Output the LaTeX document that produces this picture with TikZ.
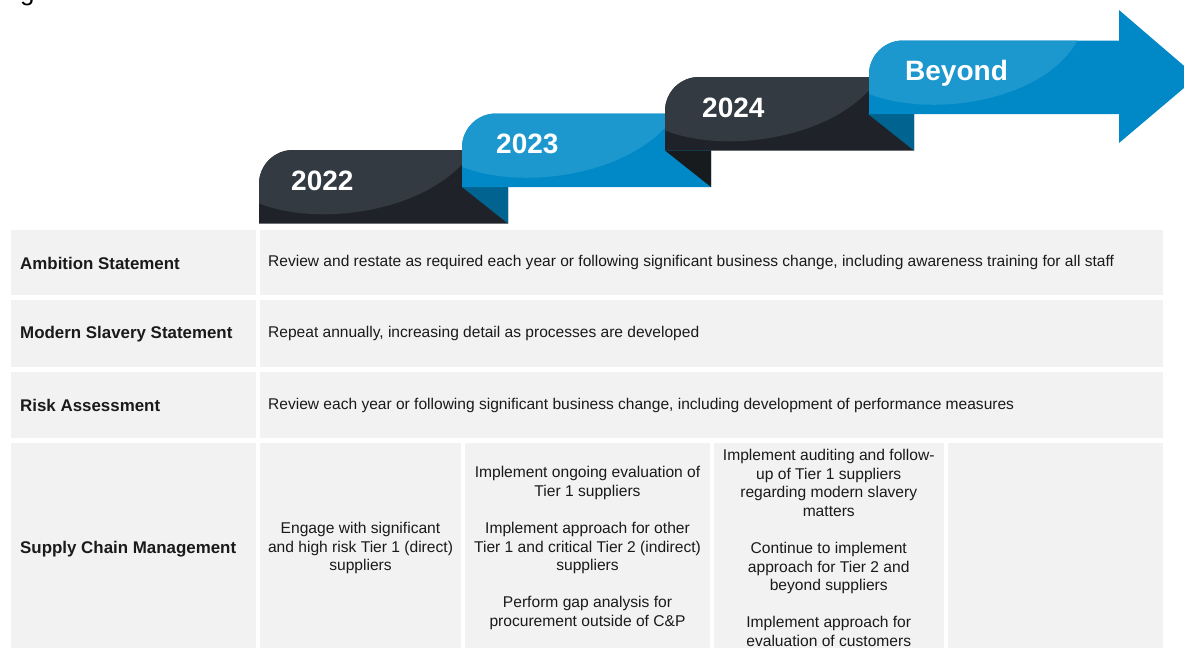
\documentclass[tikz,border=0pt]{standalone}
\usepackage{fontspec}
\setmainfont{Liberation Sans}
\definecolor{darktop}{HTML}{343A41}
\definecolor{darkbot}{HTML}{1F2329}
\definecolor{bluetop}{HTML}{1C98CF}
\definecolor{bluebot}{HTML}{0089C6}
\definecolor{foldblue}{HTML}{006390}
\definecolor{foldblack}{HTML}{171B1E}
\definecolor{cellgray}{HTML}{F2F2F2}
\definecolor{txt}{HTML}{1A1A1A}
\tikzset{
  yearlbl/.style={anchor=base west, text=white, font=\fontsize{28}{30}\selectfont\bfseries, inner sep=0},
  rowlbl/.style={anchor=west, font=\fontsize{16.9}{18}\selectfont\bfseries, inner sep=0, text=txt},
  rowtxt/.style={anchor=west, font=\fontsize{15.55}{18}\selectfont, inner sep=0, text=txt},
  celltxt/.style={align=center, font=\fontsize{15.6}{18.6}\selectfont, inner sep=0, text=txt},
  cell/.style={fill=cellgray}
}
\begin{document}
\begin{tikzpicture}[x=1pt,y=-1pt]
\useasboundingbox (0,0) rectangle (1184,648);
\clip (0,0) rectangle (1184,648);
% caption fragment
\node[anchor=base west, inner sep=0, font=\fontsize{26}{28}\selectfont] (cap) at (20,0) {g};
% ribbons
\foreach \x/\y/\bot/\top/\fold/\lbl/\nm/\tx in {259/150/darkbot/darktop/foldblue/2022/y22/32, 462/113.5/bluebot/bluetop/foldblack/2023/y23/34, 665/77/darkbot/darktop/foldblue/2024/y24/37}{
  \begin{scope}[shift={(\x,\y)}]
    \fill[\bot] (0,73.5) [rounded corners=34pt] -- (0,0) [sharp corners] -- (249,0) -- (249,73.5) -- cycle;
    \begin{scope}
      \clip (0,73.5) [rounded corners=34pt] -- (0,0) [sharp corners] -- (249,0) -- (249,73.5) -- cycle;
      \fill[\top] (-1,-1) -- (-1,53) .. controls (60,78) and (175,62) .. (215,-1) -- cycle;
    \end{scope}
    \fill[\fold] (203,37) -- (249,37) -- (249,73.5) -- cycle;
    \node[yearlbl] (\nm) at (\tx,40) {\lbl};
  \end{scope}
}
\begin{scope}[shift={(869,40.5)}]
  \fill[bluebot] (0,73.5) [rounded corners=34pt] -- (0,0) [sharp corners] -- (250,0) -- (250,-30.5) -- (328,36.5) -- (250,102.5) -- (250,73.5) -- cycle;
  \begin{scope}
    \clip (0,73.5) [rounded corners=34pt] -- (0,0) [sharp corners] -- (250,0) -- (250,73.5) -- cycle;
    \fill[bluetop] (-1,-1) -- (-1,53) .. controls (60,78) and (175,62) .. (209,-1) -- cycle;
  \end{scope}
  \node[yearlbl] (beyond) at (36,40) {Beyond};
\end{scope}
% table cells
\fill[cell] (11,230) rectangle (256,295);
\fill[cell] (260,230) rectangle (1163,295);
\fill[cell] (11,300) rectangle (256,367);
\fill[cell] (260,300) rectangle (1163,367);
\fill[cell] (11,372) rectangle (256,438);
\fill[cell] (260,372) rectangle (1163,438);
\fill[cell] (11,443) rectangle (256,660);
\fill[cell] (260,443) rectangle (461,660);
\fill[cell] (465,443) rectangle (710,660);
\fill[cell] (714,443) rectangle (943.5,660);
\fill[cell] (948,443) rectangle (1163,660);
% labels
\node[rowlbl] (l1) at (20,263) {Ambition Statement};
\node[rowlbl] (l2) at (20,334) {Modern Slavery Statement};
\node[rowlbl] (l3) at (20,405) {Risk Assessment};
\node[rowlbl] (l4) at (20,549) {Supply Chain Management};
\node[rowtxt] (t1) at (268,262) {Review and restate as required each year or following significant business change, including awareness training for all staff};
\node[rowtxt] (t2) at (268,333) {Repeat annually, increasing detail as processes are developed};
\node[rowtxt] (t3) at (268,405) {Review each year or following significant business change, including development of performance measures};
\node[celltxt] (c1) at (360.5,548) {Engage with significant\\and high risk Tier 1 (direct)\\suppliers};
\node[celltxt] (c2) at (587.5,548) {Implement ongoing evaluation of\\Tier 1 suppliers\\[18.6pt]Implement approach for other\\Tier 1 and critical Tier 2 (indirect)\\suppliers\\[18.6pt]Perform gap analysis for\\procurement outside of C\&P};
\node[celltxt] (c3) at (828.75,548) {Implement auditing and follow-\\up of Tier 1 suppliers\\regarding modern slavery\\matters\\[18.6pt]Continue to implement\\approach for Tier 2 and\\beyond suppliers\\[18.6pt]Implement approach for\\evaluation of customers};
\end{tikzpicture}
\end{document}
